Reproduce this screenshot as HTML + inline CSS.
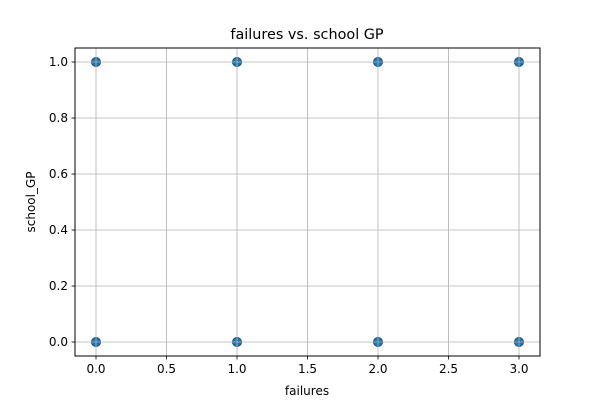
<!DOCTYPE html>
<html><head><meta charset="utf-8"><style>
body{margin:0;background:#fff;font-family:"Liberation Sans","DejaVu Sans",sans-serif}
svg text{font-family:"DejaVu Sans","Liberation Sans",sans-serif;fill:#000}
</style></head><body>
<svg width="600" height="400" xmlns="http://www.w3.org/2000/svg">
<rect width="600" height="400" fill="#fff"/>
<g id="points"></g>
<g id="grid"></g>
<rect x="75" y="48" width="465" height="308" fill="none" stroke="#000" stroke-width="1"/>
<g id="ticks"></g>
<text x="307" y="39" font-size="14.4" text-anchor="middle">failures vs. school GP</text>
<text x="307" y="395" font-size="12" text-anchor="middle">failures</text>
<text transform="translate(35,202) rotate(-90)" font-size="12" text-anchor="middle">school_GP</text>
</svg>
<script>
const xVals=[0,1,2,3,0,1,2,3];
const yVals=[1,1,1,1,0,0,0,0];
const xTicks=[0,0.5,1,1.5,2,2.5,3];
const yTicks=[0,0.2,0.4,0.6,0.8,1.0];
const NS="http://www.w3.org/2000/svg";
function xs(v){return 96+v*141;}
function ys(v){return 342-v*280;}
const grid=document.getElementById('grid'),ticks=document.getElementById('ticks'),pts=document.getElementById('points');
function mk(tag,attrs,parent){const e=document.createElementNS(NS,tag);for(const k in attrs)e.setAttribute(k,attrs[k]);parent.appendChild(e);return e;}
xTicks.forEach(t=>{const x=xs(t);
 const g=mk('line',{x1:x,x2:x,y1:48,y2:356,stroke:'#b0b0b0','stroke-width':0.8},grid);
 
 
 mk('line',{x1:x,x2:x,y1:356,y2:359.5,stroke:'#000','stroke-width':0.8},ticks);
 const tx=mk('text',{x:x,y:373,'font-size':12,'text-anchor':'middle'},ticks);tx.textContent=t.toFixed(1);
 
 
});
yTicks.forEach(t=>{const y=ys(t);
 const g=mk('line',{x1:75,x2:540,y1:y,y2:y,stroke:'#b0b0b0','stroke-width':0.8},grid);
 
 
 mk('line',{x1:71.5,x2:75,y1:y,y2:y,stroke:'#000','stroke-width':0.8},ticks);
 const tx=mk('text',{x:68,y:y+4,'font-size':12,'text-anchor':'end'},ticks);tx.textContent=t.toFixed(1);
 
 
});
xVals.forEach((v,i)=>{
 const c=mk('circle',{cx:xs(v),cy:ys(yVals[i]),r:4.5,fill:'#1f77b4',stroke:'#174f78','stroke-width':1},pts);
 
 
});
</script>
</body></html>
